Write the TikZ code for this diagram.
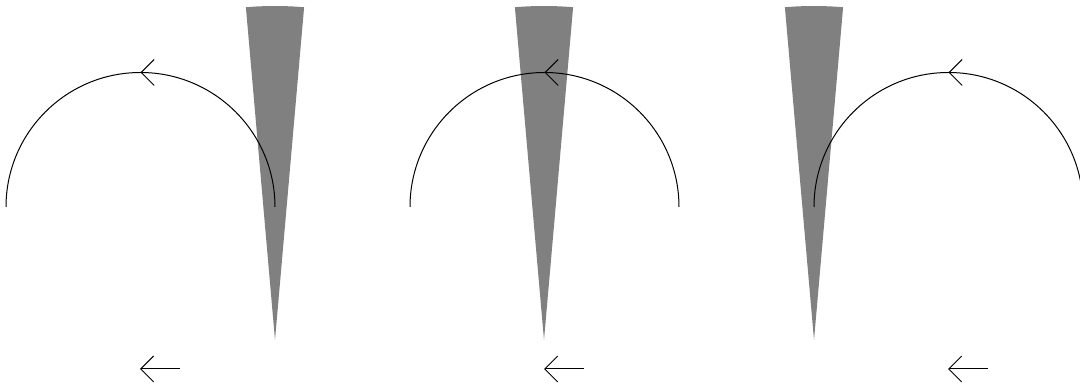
\documentclass[tikz,border=0pt]{standalone}
\usetikzlibrary{arrows.meta,decorations.markings,calc}
\begin{document}
\begin{tikzpicture}[x=1pt,y=1pt,
  wedge/.style={fill=gray, draw=none},
  curve/.style={line width=1pt, postaction={decorate},
    decoration={markings, mark=at position 0.5 with {\arrow{Straight Barb[length=13pt,width=26pt]}}}},
  motion/.style={line width=1pt, -{Straight Barb[length=13pt,width=26pt]}}]
\useasboundingbox (0,0) rectangle (1080,385);
\clip (0,0) rectangle (1080,385);
\foreach \off/\tip in {0/275, 404/544, 808/814} {
  \coordinate (tip) at (\tip,45);
  \coordinate (c) at (140.5+\off,178);
  \coordinate (ms) at (180+\off,16);
  \coordinate (me) at (140+\off,16);
  \fill[wedge] (tip) -- ++(85:334) arc[start angle=85,end angle=95,radius=334] -- cycle;
  \draw[curve] ($(c)+(134.5,0)$) arc[start angle=0,end angle=180,radius=134.5];
  \draw[motion] (ms) -- (me);
}
\end{tikzpicture}
\end{document}
